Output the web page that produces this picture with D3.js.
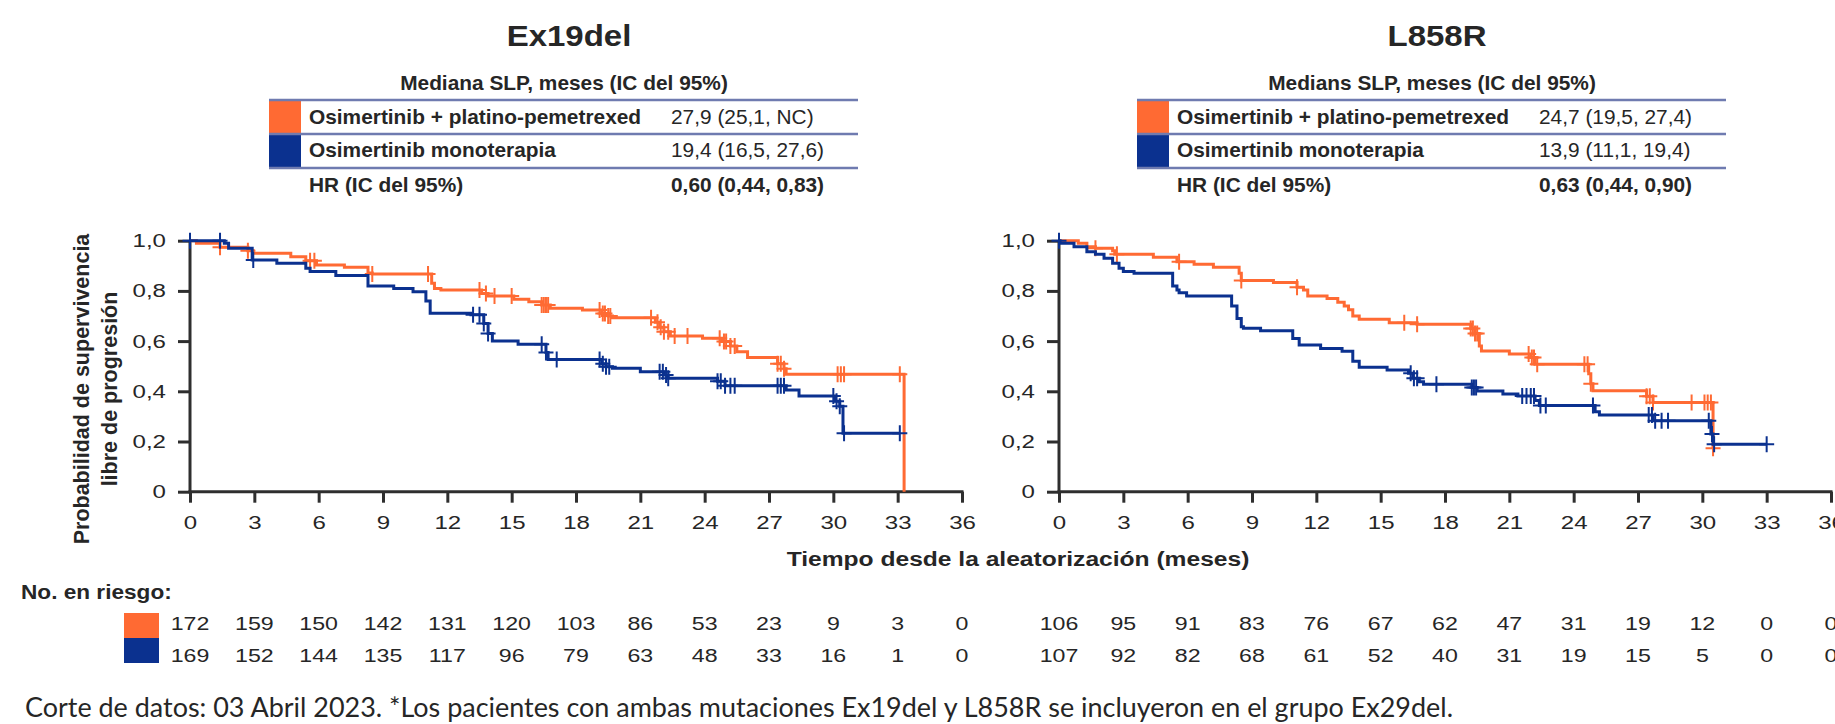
<!DOCTYPE html>
<html>
<head>
<meta charset="utf-8">
<script src="https://cdn.jsdelivr.net/npm/d3@7"></script>
<style>
  body { margin: 0; background: #fff; }
  svg { display: block; }
  text { font-family: "Liberation Sans", Arial, sans-serif; fill: #262626; }
</style>
</head>
<body>
<div id="chart"></div>
<script>
// ---- data ----
const timeTicks = [0, 3, 6, 9, 12, 15, 18, 21, 24, 27, 30, 33, 36];
const yTicks = [0, 0.2, 0.4, 0.6, 0.8, 1.0];
const yTickLabels = ["0", "0,2", "0,4", "0,6", "0,8", "1,0"];

const panelTitles = ["Ex19del", "L858R"];
const tableHeaders = ["Mediana SLP, meses (IC del 95%)", "Medians SLP, meses (IC del 95%)"];
const armNames = ["Osimertinib + platino-pemetrexed", "Osimertinib monoterapia"];
const ex19Medians = ["27,9 (25,1, NC)", "19,4 (16,5, 27,6)"];
const l858Medians = ["24,7 (19,5, 27,4)", "13,9 (11,1, 19,4)"];
const hrLabel = "HR (IC del 95%)";
const hrValues = ["0,60 (0,44, 0,83)", "0,63 (0,44, 0,90)"];

// Ex19del, osimertinib + chemo (step times / survival after step)
const ex19ChemoT = [0, 0.3, 1.4, 2.7, 2.95, 4.7, 5.4, 5.9, 7.2, 8.3, 8.5, 11.27, 11.4, 11.7, 13.6, 13.9, 15.1, 15.8, 16.4, 16.8, 18.3, 19.2, 19.5, 19.7, 21.7, 21.9, 22.1, 22.4, 23.9, 24.8, 25.2, 25.5, 26.0, 27.4, 27.7, 27.8, 33.3];
const ex19ChemoS = [1.0, 0.99, 0.974, 0.96, 0.95, 0.936, 0.92, 0.903, 0.894, 0.871, 0.867, 0.83, 0.81, 0.804, 0.79, 0.78, 0.767, 0.757, 0.744, 0.731, 0.724, 0.71, 0.70, 0.693, 0.675, 0.655, 0.637, 0.62, 0.611, 0.598, 0.58, 0.558, 0.535, 0.51, 0.49, 0.468, 0];
const ex19ChemoEnd = 33.3;
const ex19ChemoCens = [1.4, 2.7, 5.6, 5.8, 8.5, 11.1, 13.5, 13.8, 14.2, 15.0, 16.4, 16.5, 16.6, 16.7, 19.1, 19.25, 19.35, 19.5, 19.6, 21.5, 21.8, 21.95, 22.1, 22.3, 22.6, 23.2, 24.7, 24.9, 25.0, 25.2, 25.4, 27.4, 27.55, 27.7, 30.2, 30.35, 30.5, 33.1];

// Ex19del, osimertinib monotherapy
const ex19MonoT = [0, 1.6, 1.8, 2.9, 4.05, 5.4, 5.6, 6.8, 8.3, 9.5, 10.4, 11.0, 11.2, 13.1, 13.7, 13.9, 14.1, 15.3, 16.6, 16.7, 19.2, 19.4, 19.7, 21.0, 22.1, 22.3, 24.6, 24.95, 27.8, 28.4, 30.1, 30.3, 30.45];
const ex19MonoS = [1.0, 0.99, 0.97, 0.923, 0.91, 0.89, 0.877, 0.861, 0.82, 0.81, 0.797, 0.76, 0.711, 0.705, 0.67, 0.63, 0.60, 0.587, 0.555, 0.527, 0.51, 0.498, 0.492, 0.478, 0.465, 0.452, 0.44, 0.422, 0.405, 0.381, 0.36, 0.34, 0.233];
const ex19MonoEnd = 33.1;
const ex19MonoCens = [0, 1.4, 2.95, 13.2, 13.5, 13.7, 13.9, 16.4, 16.6, 17.1, 19.1, 19.25, 19.4, 19.55, 21.9, 22.05, 22.2, 22.3, 24.6, 24.75, 24.95, 25.2, 25.4, 27.4, 27.55, 27.7, 30.0, 30.15, 30.3, 30.5, 33.1];

// L858R, osimertinib + chemo
const l858ChemoT = [0, 0.9, 1.3, 1.7, 2.5, 2.6, 4.4, 5.5, 6.3, 7.2, 8.4, 8.5, 10.0, 11.1, 11.4, 11.6, 12.5, 13.0, 13.3, 13.5, 13.7, 14.0, 15.4, 16.7, 19.2, 19.4, 19.6, 19.7, 21.0, 22.0, 22.2, 24.7, 24.8, 24.9, 27.4, 27.7, 30.5];
const l858ChemoS = [1.0, 0.99, 0.976, 0.97, 0.96, 0.946, 0.934, 0.916, 0.906, 0.894, 0.87, 0.841, 0.833, 0.815, 0.804, 0.78, 0.77, 0.755, 0.74, 0.725, 0.70, 0.687, 0.673, 0.667, 0.65, 0.63, 0.58, 0.561, 0.549, 0.535, 0.508, 0.47, 0.43, 0.402, 0.38, 0.355, 0.173];
const l858ChemoEnd = 30.5;
const l858ChemoCens = [1.7, 2.7, 5.6, 8.5, 11.1, 16.1, 16.7, 19.2, 19.3, 19.4, 19.5, 21.9, 22.05, 22.15, 22.3, 24.5, 24.65, 24.8, 27.4, 27.55, 27.7, 29.5, 30.1, 30.25, 30.4, 30.5];

// L858R, osimertinib monotherapy
const l858MonoT = [0, 0.05, 0.7, 1.3, 1.7, 2.1, 2.5, 2.8, 3.0, 3.5, 5.3, 5.5, 5.6, 5.95, 8.05, 8.3, 8.5, 8.6, 9.4, 10.9, 11.2, 12.2, 13.2, 13.7, 14.0, 15.3, 16.3, 16.5, 16.8, 17.0, 19.25, 19.5, 20.7, 21.4, 22.2, 22.4, 25.0, 25.2, 27.7, 30.4, 30.5];
const l858MonoS = [1.0, 0.99, 0.976, 0.956, 0.946, 0.93, 0.91, 0.89, 0.877, 0.87, 0.82, 0.804, 0.793, 0.78, 0.74, 0.69, 0.657, 0.651, 0.641, 0.61, 0.584, 0.571, 0.56, 0.52, 0.496, 0.485, 0.472, 0.452, 0.438, 0.428, 0.415, 0.401, 0.389, 0.381, 0.363, 0.343, 0.319, 0.306, 0.283, 0.23, 0.189];
const l858MonoEnd = 33.0;
const l858MonoCens = [0, 16.4, 16.55, 16.7, 17.6, 19.25, 19.35, 19.45, 21.6, 21.8, 22.0, 22.15, 22.45, 22.7, 24.9, 27.5, 27.65, 27.8, 28.1, 28.4, 30.3, 30.45, 30.55, 33.0];

// numbers at risk
const ex19ChemoRisk = [172, 159, 150, 142, 131, 120, 103, 86, 53, 23, 9, 3, 0];
const ex19MonoRisk = [169, 152, 144, 135, 117, 96, 79, 63, 48, 33, 16, 1, 0];
const l858ChemoRisk = [106, 95, 91, 83, 76, 67, 62, 47, 31, 19, 12, 0, 0];
const l858MonoRisk = [107, 92, 82, 68, 61, 52, 40, 31, 19, 15, 5, 0, 0];

const footnote = "Corte de datos: 03 Abril 2023. *Los pacientes con ambas mutaciones Ex19del y L858R se incluyeron en el grupo Ex29del.";

// ---- layout / style ----
const W = 1835, H = 724;
const ORANGE = "#ff6a33", NAVY = "#0b318f", AXIS = "#2e2e2e", RULE = "#6f7bb0";
const plotTop = 240.7, plotBottom = 491.7, plotW = 772;
const panelX = [190, 1059];
const tableX = [269, 1137];

const svg = d3.select("#chart").append("svg")
  .attr("width", W).attr("height", H)
  .style("background", "#fff");

// horizontal stretch for text (the source picture is slightly widened)
function stretch(sel, sx) {
  sel.each(function () {
    const t = d3.select(this);
    const x = +t.attr("x") || 0, y = +t.attr("y") || 0;
    t.attr("x", null).attr("y", null)
      .attr("transform", `translate(${x},${y}) scale(${sx},1)`);
  });
}

const y = d3.scaleLinear().domain([0, 1]).range([plotBottom, plotTop]);

const panels = [
  {
    title: panelTitles[0], header: tableHeaders[0], medians: ex19Medians, hr: hrValues[0],
    arms: [
      { T: ex19ChemoT, S: ex19ChemoS, end: ex19ChemoEnd, cens: ex19ChemoCens, color: ORANGE, risk: ex19ChemoRisk },
      { T: ex19MonoT, S: ex19MonoS, end: ex19MonoEnd, cens: ex19MonoCens, color: NAVY, risk: ex19MonoRisk }
    ]
  },
  {
    title: panelTitles[1], header: tableHeaders[1], medians: l858Medians, hr: hrValues[1],
    arms: [
      { T: l858ChemoT, S: l858ChemoS, end: l858ChemoEnd, cens: l858ChemoCens, color: ORANGE, risk: l858ChemoRisk },
      { T: l858MonoT, S: l858MonoS, end: l858MonoEnd, cens: l858MonoCens, color: NAVY, risk: l858MonoRisk }
    ]
  }
];

function survAt(T, S, t) {
  const i = d3.bisectRight(T, t) - 1;
  return S[Math.max(i, 0)];
}

panels.forEach((p, pi) => {
  const x = d3.scaleLinear().domain([0, 36]).range([panelX[pi], panelX[pi] + plotW]);
  const tx = tableX[pi];

  // title
  svg.append("text").attr("x", tx + 300).attr("y", 46)
    .attr("text-anchor", "middle").style("font-size", "30px").style("font-weight", "bold")
    .text(p.title).call(stretch, 1.1);

  // median table
  svg.append("text").attr("x", tx + 295).attr("y", 90)
    .attr("text-anchor", "middle").style("font-size", "19.5px").style("font-weight", "bold")
    .text(p.header).call(stretch, 1.07);

  [ORANGE, NAVY].forEach((c, i) => {
    svg.append("rect").attr("x", tx).attr("y", 100 + i * 34)
      .attr("width", 32).attr("height", 34).attr("fill", c);
  });
  [100, 134, 168].forEach(ly => {
    svg.append("line").attr("x1", tx).attr("x2", tx + 589)
      .attr("y1", ly).attr("y2", ly)
      .attr("stroke", RULE).attr("stroke-width", 2.5);
  });
  const rowBase = [124, 157, 192];
  armNames.forEach((n, i) => {
    svg.append("text").attr("x", tx + 40).attr("y", rowBase[i])
      .style("font-size", "19.5px").style("font-weight", "bold")
      .text(n).call(stretch, 1.07);
    svg.append("text").attr("x", tx + 402).attr("y", rowBase[i])
      .style("font-size", "19.5px")
      .text(p.medians[i]).call(stretch, 1.07);
  });
  svg.append("text").attr("x", tx + 40).attr("y", rowBase[2])
    .style("font-size", "19.5px").style("font-weight", "bold")
    .text(hrLabel).call(stretch, 1.07);
  svg.append("text").attr("x", tx + 402).attr("y", rowBase[2])
    .style("font-size", "19.5px").style("font-weight", "bold")
    .text(p.hr).call(stretch, 1.07);

  // axes
  const gx = svg.append("g").attr("transform", `translate(0,${plotBottom})`)
    .call(d3.axisBottom(x).tickValues(timeTicks).tickSize(11).tickSizeOuter(0));
  const gy = svg.append("g").attr("transform", `translate(${panelX[pi]},0)`)
    .call(d3.axisLeft(y).tickValues(yTicks).tickSize(12).tickSizeOuter(0)
      .tickFormat((d, i) => yTickLabels[i]));
  [gx, gy].forEach(g => {
    g.selectAll("path, line").attr("stroke", AXIS).attr("stroke-width", 3);
    g.selectAll("text").style("font-size", "18.5px").style("font-family", "Liberation Sans, Arial, sans-serif")
      .attr("fill", "#333");
  });
  gx.select(".domain").attr("d", `M${panelX[pi] - 1.5},0H${panelX[pi] + plotW + 1.5}`);
  gy.select(".domain").attr("d", `M0,${plotBottom + 1.5}V${plotTop}`);
  gx.selectAll("text").attr("y", 37).attr("dy", null).call(stretch, 1.3);
  gy.selectAll("text").attr("x", -24).call(stretch, 1.3);

  // survival curves
  const line = d3.line().x(d => x(d[0])).y(d => y(d[1])).curve(d3.curveStepAfter);
  p.arms.forEach(a => {
    const pts = a.T.map((t, i) => [t, a.S[i]]);
    if (a.end > a.T[a.T.length - 1]) pts.push([a.end, a.S[a.S.length - 1]]);
    svg.append("path").datum(pts)
      .attr("fill", "none").attr("stroke", a.color).attr("stroke-width", 3)
      .attr("d", line);
    svg.append("g").selectAll("path").data(a.cens).join("path")
      .attr("transform", d => `translate(${x(d)},${y(survAt(a.T, a.S, d))})`)
      .attr("d", "M0,-8V8M-7.5,0H7.5")
      .attr("stroke", a.color).attr("stroke-width", 2).attr("fill", "none");
  });

  // numbers at risk
  p.arms.forEach((a, i) => {
    svg.append("g").selectAll("text").data(a.risk).join("text")
      .attr("x", (d, j) => x(timeTicks[j])).attr("y", 630 + i * 31.5)
      .attr("text-anchor", "middle").style("font-size", "19px").attr("fill", "#333")
      .text(d => d).call(stretch, 1.22);
  });
});

// y-axis label
const yl = svg.append("g").attr("transform", "translate(0,389)");
["Probabilidad de supervivencia", "libre de progresión"].forEach((s, i) => {
  yl.append("text").attr("transform", `translate(${89 + i * 28},0) rotate(-90)`)
    .attr("text-anchor", "middle").style("font-size", "21.5px").style("font-weight", "bold")
    .text(s);
});

// x-axis title
svg.append("text").attr("x", 1018).attr("y", 566).attr("text-anchor", "middle")
  .style("font-size", "20.5px").style("font-weight", "bold")
  .text("Tiempo desde la aleatorización (meses)").call(stretch, 1.2);

// at-risk header and colour keys
svg.append("text").attr("x", 21).attr("y", 599)
  .style("font-size", "19.5px").style("font-weight", "bold")
  .text("No. en riesgo:").call(stretch, 1.16);
[ORANGE, NAVY].forEach((c, i) => {
  svg.append("rect").attr("x", 124).attr("y", 613 + i * 25)
    .attr("width", 35).attr("height", 25).attr("fill", c);
});

// footnote
svg.append("text").attr("x", 25).attr("y", 717)
  .style("font-family", "Lato, 'Open Sans', sans-serif").style("font-size", "26px").attr("fill", "#000")
  .attr("textLength", 1428).attr("lengthAdjust", "spacingAndGlyphs")
  .text(footnote);
</script>
</body>
</html>
